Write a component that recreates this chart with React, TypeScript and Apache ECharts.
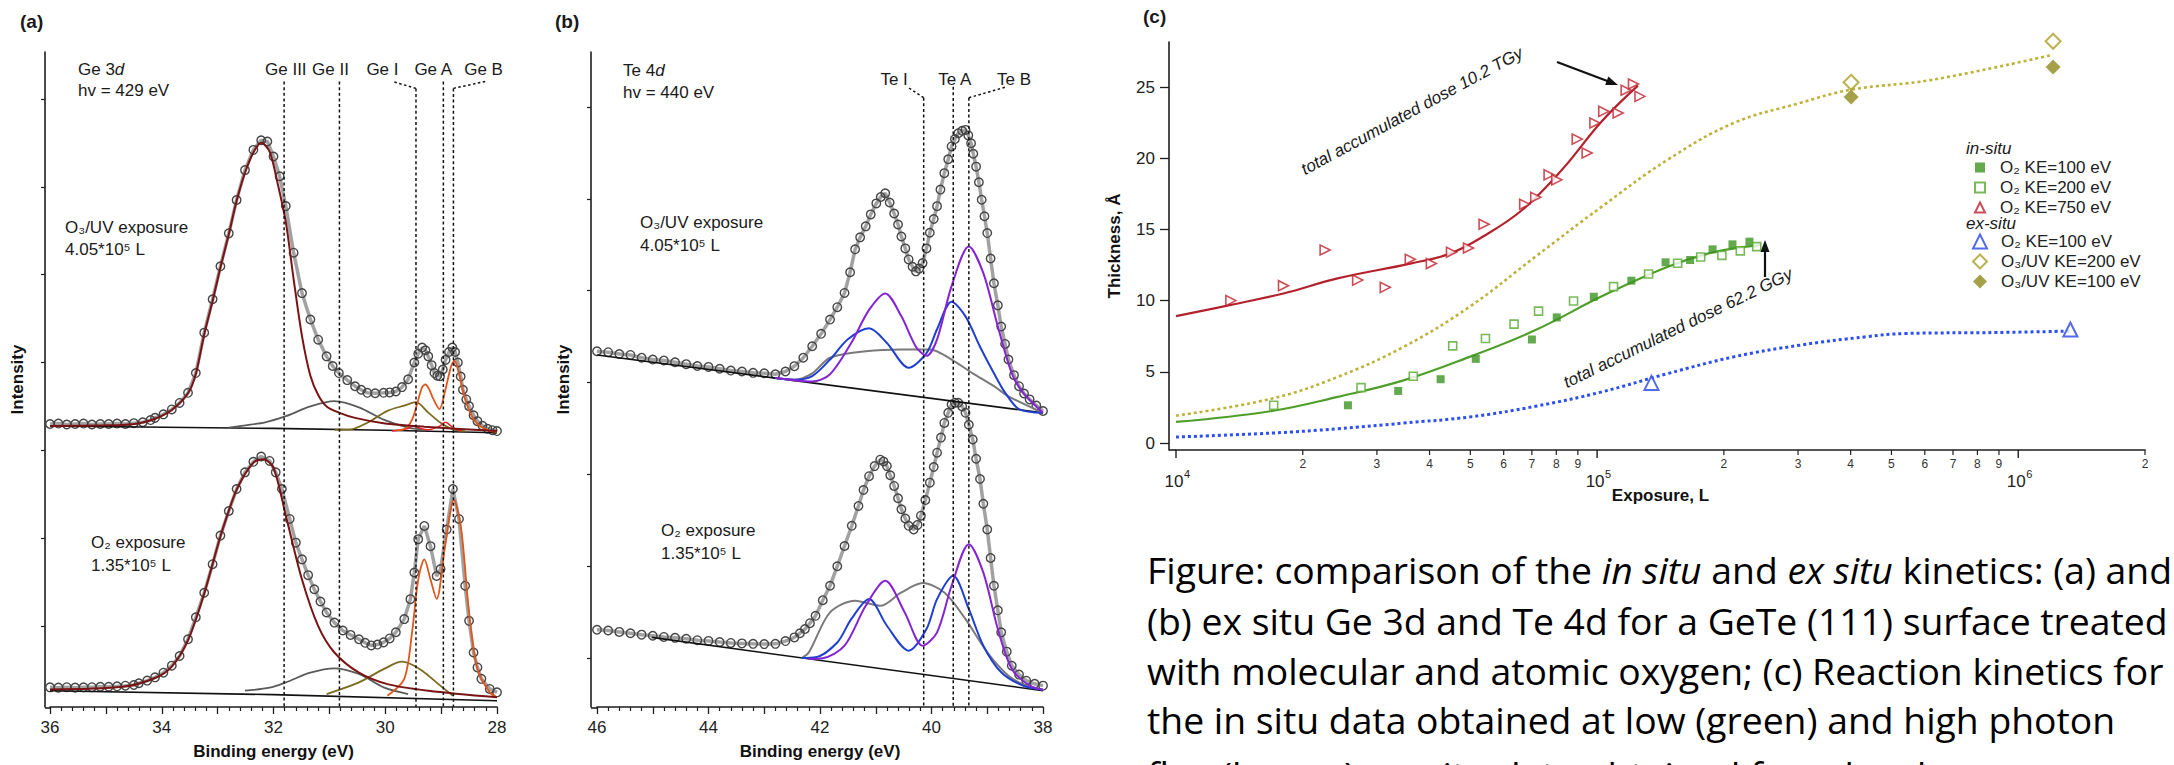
import React, { useEffect, useRef } from "react";
import * as echarts from "echarts";

const FONT = "'Liberation Sans', Arial, Helvetica, sans-serif";
const CAP_FONT = "'Open Sans', 'Liberation Sans', sans-serif";

// ---------------- Panel (a): Ge 3d, [binding energy eV, intensity a.u.] ----------------
const geO3Data = [[36.00,33.00],[35.85,33.05],[35.70,32.95],[35.55,33.00],[35.40,33.05],[35.25,32.95],[35.10,33.00],[34.95,33.00],[34.80,33.05],[34.65,33.00],[34.50,33.10],[34.34,33.20],[34.20,33.45],[34.12,33.70],[33.97,34.10],[33.82,34.66],[33.68,35.40],[33.53,36.55],[33.39,38.80],[33.24,43.40],[33.09,47.20],[32.95,50.95],[32.80,54.70],[32.66,58.50],[32.51,61.90],[32.36,64.20],[32.22,65.30],[32.11,65.15],[32.00,63.45],[31.89,61.20],[31.78,57.80],[31.64,52.50],[31.49,47.90],[31.34,44.90],[31.20,42.60],[31.05,40.70],[30.94,39.60],[30.83,38.80],[30.68,38.00],[30.54,37.30],[30.43,36.90],[30.32,36.55],[30.18,36.50],[30.03,36.55],[29.92,36.60],[29.81,36.70],[29.70,37.20],[29.59,38.10],[29.48,40.00],[29.41,41.00],[29.34,41.70],[29.28,41.40],[29.23,40.70],[29.17,39.70],[29.12,38.80],[29.07,38.50],[29.02,38.45],[28.97,39.20],[28.92,40.30],[28.86,41.20],[28.80,41.70],[28.75,41.20],[28.70,40.00],[28.65,38.40],[28.61,36.90],[28.55,35.80],[28.50,35.04],[28.42,34.00],[28.35,33.33],[28.26,32.80],[28.17,32.46],[28.08,32.30],[28.00,32.20]];
const geO3GeIII = [[36.00,32.77],[35.00,32.85],[34.70,32.90],[34.40,33.10],[34.12,33.60],[33.82,34.60],[33.53,36.50],[33.39,38.70],[33.24,43.20],[33.09,47.00],[32.95,50.80],[32.80,54.60],[32.66,58.40],[32.51,61.60],[32.36,63.90],[32.22,65.00],[32.07,64.00],[31.93,60.50],[31.78,56.00],[31.64,49.50],[31.49,43.00],[31.34,38.50],[31.20,36.30],[31.05,35.00],[30.83,34.30],[30.54,33.70],[30.03,33.10],[29.30,32.70],[28.00,32.20]];
const geO3Bg = [[36.0,32.77],[32.0,32.5],[30.0,32.3],[28.0,32.0]];
const geO3GeII = [[32.80,32.60],[32.51,32.85],[32.15,33.20],[31.78,33.90],[31.34,35.00],[30.91,35.60],[30.47,34.90],[30.03,33.50],[29.59,32.60],[29.23,32.30]];
const geO3GeI = [[30.90,32.35],[30.61,32.40],[30.32,33.15],[29.96,34.50],[29.66,35.10],[29.45,35.50],[29.23,34.30],[29.01,33.15],[28.79,32.40],[28.57,32.20]];
const geO3GeAB = [[29.80,32.30],[29.66,32.40],[29.52,33.50],[29.42,35.50],[29.34,37.20],[29.28,37.50],[29.21,36.90],[29.15,36.00],[29.03,34.70],[28.92,37.00],[28.82,39.60],[28.76,40.20],[28.67,38.45],[28.57,35.80],[28.46,34.00],[28.35,33.00],[28.17,32.30],[28.00,32.10]];
const geO3Small = [[29.88,32.20],[29.59,32.50],[29.50,32.80],[29.37,32.50],[29.23,32.35],[29.04,32.70],[28.92,33.20],[28.79,32.60],[28.64,32.20]];

const geO2Data = [[36.00,3.03],[35.85,3.00],[35.70,3.05],[35.55,3.00],[35.40,3.03],[35.25,3.05],[35.10,3.10],[34.95,3.10],[34.80,3.15],[34.65,3.22],[34.50,3.30],[34.41,3.50],[34.26,3.80],[34.12,4.17],[33.97,4.70],[33.82,5.50],[33.68,6.60],[33.53,8.50],[33.39,11.00],[33.24,13.80],[33.09,17.05],[32.95,20.30],[32.80,23.10],[32.66,25.60],[32.51,27.50],[32.36,28.70],[32.22,29.30],[32.07,28.80],[31.96,27.50],[31.85,25.60],[31.71,22.20],[31.60,19.50],[31.49,17.60],[31.38,15.80],[31.27,14.20],[31.16,12.80],[31.05,11.55],[30.91,10.40],[30.76,9.50],[30.62,9.00],[30.47,8.50],[30.36,8.10],[30.25,7.80],[30.14,7.90],[30.03,8.15],[29.92,8.60],[29.81,9.30],[29.66,10.80],[29.55,13.07],[29.48,16.10],[29.41,19.90],[29.30,21.40],[29.19,19.10],[29.08,15.70],[29.01,16.50],[28.90,21.00],[28.79,25.60],[28.68,22.20],[28.57,14.60],[28.50,10.60],[28.42,7.00],[28.35,5.30],[28.28,4.00],[28.13,2.85],[28.00,2.46]];
const geO2GeIII = [[36.00,2.80],[34.70,3.10],[34.12,4.10],[33.82,5.40],[33.53,8.40],[33.24,13.70],[32.95,20.20],[32.66,25.50],[32.36,28.60],[32.18,29.00],[32.00,28.00],[31.78,22.60],[31.49,15.30],[31.20,10.00],[30.91,7.00],[30.47,4.70],[29.96,3.40],[29.23,2.65],[28.00,1.90]];
const geO2Bg = [[36.0,2.65],[32.0,2.2],[28.0,1.5]];
const geO2GeII = [[32.51,2.65],[32.07,3.00],[31.78,3.60],[31.34,4.70],[30.91,5.20],[30.47,4.55],[30.03,3.03],[29.59,2.27]];
const geO2GeI = [[31.05,2.27],[30.47,3.60],[30.03,5.10],[29.70,5.95],[29.38,5.10],[29.01,3.20],[28.79,2.08]];
const geO2GeAB = [[29.96,2.08],[29.66,4.00],[29.52,9.30],[29.41,15.30],[29.30,17.60],[29.19,15.30],[29.08,13.10],[28.93,19.10],[28.77,24.40],[28.64,21.00],[28.50,11.55],[28.35,5.10],[28.13,2.46],[28.00,1.90]];

const geMarkNames = ["Ge III", "Ge II", "Ge I", "Ge A", "Ge B"];
const geMarkEV = [31.81, 30.82, 29.45, 28.96, 28.78];
const geMarkTop = [71.97, 71.97, 71.2, 71.97, 71.2];
const geLabelEV = [31.78, 30.98, 30.05, 29.14, 28.24];
const geLeaderI = [[29.45, 71.2], [29.88, 72.0]];
const geLeaderB = [[28.78, 71.2], [28.2, 72.0]];

// ---------------- Panel (b): Te 4d ----------------
const teO3Data = [[46.00,43.40],[45.80,43.30],[45.60,43.10],[45.40,43.00],[45.20,42.70],[45.00,42.50],[44.80,42.40],[44.60,42.20],[44.40,42.00],[44.20,41.80],[44.00,41.70],[43.80,41.50],[43.60,41.30],[43.40,41.20],[43.20,41.05],[43.00,41.00],[42.80,40.90],[42.62,41.20],[42.46,41.78],[42.30,42.70],[42.14,43.95],[41.98,45.30],[41.82,46.85],[41.69,48.20],[41.56,49.75],[41.46,52.00],[41.37,54.50],[41.28,55.80],[41.18,57.00],[41.09,58.30],[40.99,59.50],[40.91,60.20],[40.83,60.60],[40.75,59.60],[40.67,58.40],[40.60,57.20],[40.54,55.90],[40.47,54.60],[40.41,53.40],[40.34,52.60],[40.28,52.10],[40.22,52.40],[40.16,53.00],[40.09,54.60],[40.03,56.30],[39.96,57.80],[39.90,59.20],[39.84,61.00],[39.77,62.79],[39.70,64.30],[39.64,65.70],[39.58,66.50],[39.52,67.14],[39.45,67.40],[39.39,67.50],[39.34,66.90],[39.29,66.05],[39.25,64.90],[39.20,63.50],[39.15,61.80],[39.10,59.90],[39.05,58.10],[39.00,56.27],[38.94,53.50],[38.88,50.80],[38.81,48.40],[38.75,46.10],[38.68,44.20],[38.62,42.50],[38.52,40.80],[38.43,39.60],[38.34,38.80],[38.24,38.16],[38.12,37.50],[38.00,36.90]];
const teO3Bg = [[46.0,43.0],[38.0,36.7]];
const teO3Blue = [[42.80,40.48],[42.46,40.30],[42.14,40.70],[41.82,42.50],[41.50,44.70],[41.12,45.90],[40.80,44.30],[40.41,41.60],[40.09,43.20],[39.90,45.80],[39.64,48.80],[39.39,47.20],[39.13,43.90],[38.88,41.00],[38.68,38.90],[38.43,37.10],[38.00,36.70]];
const teO3Purple = [[42.80,40.48],[42.14,40.10],[41.82,40.90],[41.44,44.30],[41.12,47.90],[40.83,49.70],[40.54,47.20],[40.28,43.90],[40.09,42.90],[39.90,44.70],[39.64,50.50],[39.33,54.80],[39.07,51.90],[38.81,46.10],[38.56,41.00],[38.36,38.90],[38.00,36.70]];
const teO3Gray = [[42.80,40.48],[42.46,40.30],[42.14,41.00],[41.82,42.70],[41.18,43.40],[40.54,43.60],[40.03,43.60],[39.64,42.50],[39.26,41.00],[38.88,39.60],[38.62,38.50],[38.00,36.70]];

const teO2Data = [[46.00,13.08],[45.80,13.00],[45.60,12.85],[45.40,12.70],[45.20,12.55],[45.00,12.43],[44.80,12.30],[44.60,12.20],[44.40,12.10],[44.20,11.95],[44.00,11.87],[43.80,11.75],[43.60,11.65],[43.40,11.60],[43.20,11.55],[43.00,11.52],[42.80,11.55],[42.62,11.85],[42.46,12.25],[42.36,12.70],[42.27,13.16],[42.18,13.80],[42.08,14.60],[41.95,16.30],[41.82,17.87],[41.69,20.00],[41.56,22.20],[41.43,24.40],[41.31,26.56],[41.22,28.30],[41.12,29.80],[41.02,30.90],[40.92,31.60],[40.86,31.40],[40.80,30.90],[40.74,29.90],[40.67,28.74],[40.60,27.40],[40.54,26.20],[40.47,25.20],[40.41,24.40],[40.32,24.00],[40.25,24.50],[40.19,25.50],[40.11,27.20],[40.03,29.10],[39.96,30.80],[39.90,32.36],[39.83,34.00],[39.77,35.60],[39.70,36.70],[39.64,37.60],[39.58,37.80],[39.52,37.80],[39.45,37.40],[39.39,36.70],[39.33,35.40],[39.26,33.80],[39.20,31.70],[39.13,29.50],[39.07,26.80],[39.00,24.00],[38.94,20.90],[38.88,17.87],[38.81,15.20],[38.75,12.80],[38.65,10.70],[38.56,9.17],[38.43,8.20],[38.30,7.54],[38.15,7.20],[38.00,7.00]];
const teO2Bg = [[45.02,12.25],[38.0,6.45]];
const teO2Blue = [[42.33,10.00],[42.08,10.08],[41.69,11.70],[41.44,14.24],[41.12,16.42],[40.80,13.52],[40.41,10.80],[40.09,13.16],[39.90,16.42],[39.61,18.95],[39.33,15.33],[39.07,11.35],[38.75,8.45],[38.36,7.00],[38.00,6.56]];
const teO2Purple = [[42.20,9.90],[41.95,9.97],[41.56,11.35],[41.18,15.69],[40.83,18.41],[40.48,14.97],[40.16,11.35],[39.90,12.80],[39.64,17.87],[39.33,22.40],[39.07,19.30],[38.81,13.16],[38.56,8.81],[38.24,7.00],[38.00,6.56]];
const teO2Gray = [[42.33,10.00],[42.20,10.62],[41.82,14.97],[41.37,16.24],[40.92,15.69],[40.54,17.14],[40.16,18.16],[39.77,17.14],[39.39,14.24],[39.00,10.62],[38.62,8.08],[38.30,7.00],[38.00,6.56]];

const teMarkNames = ["Te I", "Te A", "Te B"];
const teMarkEV = [40.14, 39.61, 39.33];
const teMarkTop = [71.0, 72.2, 71.0];
const teLabelEV = [40.67, 39.58, 38.52];
const teLeaderI = [[40.14, 71.0], [40.44, 72.2]];
const teLeaderB = [[39.33, 71.0], [38.65, 72.2]];

const intensityTicks = [10, 20, 30, 40, 50, 60, 70];

// ---------------- Panel (c): kinetics, [exposure L, thickness Å] ----------------
const red750 = [[13500,10.0],[18000,11.05],[22600,13.55],[27000,11.44],[31400,10.93],[36000,12.9],[40400,12.6],[45100,13.4],[49500,13.7],[53900,15.36],[67300,16.77],[71500,17.26],[76900,18.83],[80200,18.48],[89700,21.34],[94700,20.36],[98800,22.47],[103700,23.29],[112200,23.17],[117200,24.77],[122000,25.21],[126400,24.34]];
const redFit = [[10000,8.91],[13500,9.7],[18000,10.5],[24200,11.56],[36000,12.6],[44700,13.3],[53600,14.5],[66600,16.4],[82600,19.2],[102600,22.6],[125000,25.1]];
const green100 = [[25600,2.65],[33700,3.66],[42500,4.48],[51500,5.91],[70000,7.27],[80200,8.82],[98200,10.27],[120600,11.4],[145400,12.69],[166300,12.85],[188000,13.6],[209600,13.95],[230000,14.14]];
const green200 = [[17060,2.65],[27500,3.89],[36600,4.69],[45400,6.82],[54300,7.34],[63500,8.35],[72600,9.26],[87900,9.97],[109400,10.98],[132500,11.87],[155300,12.62],[176200,13.06],[197800,13.18],[218800,13.49],[239400,13.79]];
const greenFit = [[10000,1.48],[16900,2.25],[24200,3.24],[34700,4.4],[49800,6.05],[71400,7.93],[102600,10.3],[147200,12.38],[189300,13.4],[243600,13.9]];
const blueEx = [[134600,4.22],[1330000,7.97]];
const blueFit = [[10000,0.42],[16900,0.7],[24200,1.0],[34700,1.4],[49800,1.83],[71400,2.58],[102600,3.59],[147200,4.88],[211000,6.05],[302700,6.87],[434300,7.46],[539500,7.69],[893300,7.76],[1330000,7.86]];
const oliveOpen = [[401000,25.33],[1210000,28.21]];
const oliveFilled = [[401000,24.3],[1210000,26.4]];
const oliveFit = [[10000,1.92],[16900,3.12],[24200,4.64],[34700,6.75],[49800,9.57],[71400,13.09],[102600,16.6],[147200,19.9],[211000,22.47],[302700,23.87],[400900,24.81],[623600,25.5],[1210000,27.27]];

const thicknessTicks = [0, 5, 10, 15, 20, 25];
const exposureMajorTicks = [1e4, 1e5, 1e6];
const exposureMinorTicks = [2e4,3e4,4e4,5e4,6e4,7e4,8e4,9e4,2e5,3e5,4e5,5e5,6e5,7e5,8e5,9e5,2e6];

const legendInSitu = ["O₂ KE=100 eV", "O₂ KE=200 eV", "O₂ KE=750 eV"];
const legendExSitu = ["O₂ KE=100 eV", "O₃/UV KE=200 eV", "O₃/UV KE=100 eV"];

const captionLines = [
  "Figure: comparison of the {i|in situ} and {i|ex situ} kinetics: (a) and",
  "(b) ex situ Ge 3d and Te 4d for a GeTe (111) surface treated",
  "with molecular and atomic oxygen; (c) Reaction kinetics for",
  "the in situ data obtained at low (green) and high photon",
  "flux (brown), ex situ data obtained from hard x-ray",
];

const AX = "#1e1e1e";

function curve(data: any, color: string, idx: number, width = 1.8, extra: any = {}) {
  return {
    type: "line", data, xAxisIndex: idx, yAxisIndex: idx, smooth: 0.3,
    symbol: "none", showSymbol: false, silent: true, z: 3,
    lineStyle: { color, width }, ...extra,
  };
}
function circles(data: any, idx: number) {
  return {
    type: "line", data, xAxisIndex: idx, yAxisIndex: idx, symbol: "circle",
    symbolSize: 8.5, showSymbol: true, showAllSymbol: true, silent: true, z: 2,
    lineStyle: { color: "rgba(70,70,70,0.5)", width: 3.5 },
    itemStyle: { color: "rgba(255,255,255,0)", borderColor: "#454545", borderWidth: 1.4 },
  };
}
function dashed(data: any, idx: number, dash: number[] = [3, 2.6]) {
  return {
    type: "line", data, xAxisIndex: idx, yAxisIndex: idx, symbol: "none",
    silent: true, z: 4, lineStyle: { color: "#111", width: 1.5, type: dash },
  };
}
function T(x: number, y: number, text: string, o: any = {}) {
  const align = o.align || "left";
  const va = o.va || "middle";
  return {
    type: "text", x, y, rotation: o.rot || 0, scaleX: o.sx || 1, silent: true, z: 100,
    style: {
      text, fill: o.color || "#1a1a1a", fontSize: o.size || 17, fontFamily: o.family || FONT,
      fontWeight: o.bold ? "bold" : "normal", fontStyle: o.italic ? "italic" : "normal",
      align, verticalAlign: va, textAlign: align, textVerticalAlign: va, rich: o.rich,
    },
  };
}
function L(x1: number, y1: number, x2: number, y2: number, w = 1.4, c = AX) {
  return { type: "line", silent: true, z: 100, shape: { x1, y1, x2, y2 }, style: { stroke: c, lineWidth: w } };
}
function arrow(x1: number, y1: number, x2: number, y2: number) {
  const dx = x2 - x1, dy = y2 - y1, len = Math.hypot(dx, dy), ux = dx / len, uy = dy / len;
  const hl = 12, hw = 4.5, bx = x2 - ux * hl, by = y2 - uy * hl;
  return [
    L(x1, y1, bx + ux * 2, by + uy * 2, 2.2, "#111"),
    { type: "polygon", silent: true, z: 100, shape: { points: [[x2, y2], [bx - uy * hw, by + ux * hw], [bx + uy * hw, by - ux * hw]] }, style: { fill: "#111" } },
  ];
}

function spectrumXAxis(grid: number, min: number, max: number) {
  return {
    gridIndex: grid, type: "value", min, max, inverse: true, interval: 1,
    axisLine: { onZero: false, lineStyle: { color: AX, width: 1.6 } },
    axisTick: { length: 7, lineStyle: { color: AX, width: 1.3 } },
    minorTick: { show: true, splitNumber: 5, length: 4, lineStyle: { color: AX, width: 1.2 } },
    axisLabel: { formatter: (v: number) => (v % 2 === 0 ? String(v) : ""), fontSize: 17, color: "#222", fontFamily: FONT, margin: 12 },
    splitLine: { show: false },
    name: "Binding energy (eV)", nameLocation: "middle", nameGap: 36,
    nameTextStyle: { fontWeight: "bold", fontSize: 17, color: "#111", fontFamily: FONT },
  };
}
function spectrumYAxis(grid: number, min: number, max: number, offset: number) {
  return {
    gridIndex: grid, type: "value", min, max, offset,
    axisLine: { show: true, onZero: false, lineStyle: { color: AX, width: 1.6 } },
    axisTick: { show: true, length: 4, customValues: intensityTicks, lineStyle: { color: AX, width: 1.2 } },
    axisLabel: { show: false }, splitLine: { show: false },
    name: "Intensity", nameLocation: "middle", nameGap: 19,
    nameTextStyle: { fontWeight: "bold", fontSize: 17, color: "#111", fontFamily: FONT },
  };
}

const series: any[] = [
  // panel a
  circles(geO3Data, 0),
  curve(geO3Bg, "#111", 0, 1.6, { smooth: false }),
  curve(geO3GeII, "#5a5a5a", 0),
  curve(geO3GeI, "#7d6a1e", 0),
  curve(geO3Small, "#e8262a", 0, 1.5),
  curve(geO3GeAB, "#e0561c", 0),
  curve(geO3GeIII, "#7a1414", 0, 2),
  circles(geO2Data, 0),
  curve(geO2Bg, "#111", 0, 1.6, { smooth: false }),
  curve(geO2GeII, "#5a5a5a", 0),
  curve(geO2GeI, "#7d6a1e", 0),
  curve(geO2GeAB, "#e0561c", 0),
  curve(geO2GeIII, "#7a1414", 0, 2),
  ...geMarkEV.map((ev, i) => dashed([[ev, geMarkTop[i]], [ev, 0.795]], 0)),
  dashed(geLeaderI, 0, [2.5, 2.5]),
  dashed(geLeaderB, 0, [2.5, 2.5]),
  // panel b
  circles(teO3Data, 1),
  curve(teO3Bg, "#111", 1, 1.6, { smooth: false }),
  curve(teO3Gray, "#7a7a7a", 1, 2),
  curve(teO3Blue, "#1f3fd0", 1, 2),
  curve(teO3Purple, "#8424d4", 1, 2),
  circles(teO2Data, 1),
  curve(teO2Bg, "#111", 1, 1.6, { smooth: false }),
  curve(teO2Gray, "#7a7a7a", 1, 2),
  curve(teO2Blue, "#1f3fd0", 1, 2),
  curve(teO2Purple, "#8424d4", 1, 2),
  ...teMarkEV.map((ev, i) => dashed([[ev, teMarkTop[i]], [ev, 4.674]], 1)),
  dashed(teLeaderI, 1, [2.5, 2.5]),
  dashed(teLeaderB, 1, [2.5, 2.5]),
  // panel c lines
  curve(oliveFit, "#bdb23a", 2, 2.6, { smooth: 0.4, lineStyle: { color: "#bdb23a", width: 2.6, type: [3, 3] } }),
  curve(blueFit, "#2b4ff0", 2, 3, { smooth: 0.4, lineStyle: { color: "#2b4ff0", width: 3, type: [3, 3] } }),
  curve(redFit, "#b3222c", 2, 2.2, { smooth: 0.4 }),
  curve(greenFit, "#4f9e2a", 2, 2.2, { smooth: 0.4 }),
  // panel c markers
  { type: "scatter", name: "in|" + legendInSitu[0], data: green100, xAxisIndex: 2, yAxisIndex: 2, symbol: "rect", symbolSize: 8, z: 6, clip: false, itemStyle: { color: "#3c9420" } },
  { type: "scatter", name: "in|" + legendInSitu[1], data: green200, xAxisIndex: 2, yAxisIndex: 2, symbol: "rect", symbolSize: 8, z: 6, clip: false, itemStyle: { color: "#ffffff", borderColor: "#58a830", borderWidth: 1.6 } },
  { type: "scatter", name: "in|" + legendInSitu[2], data: red750, xAxisIndex: 2, yAxisIndex: 2, symbol: "triangle", symbolRotate: -90, symbolSize: 10, z: 6, clip: false, itemStyle: { color: "#ffffff", borderColor: "#c0202c", borderWidth: 1.6 } },
  { type: "scatter", name: "ex|" + legendExSitu[0], data: blueEx, xAxisIndex: 2, yAxisIndex: 2, symbol: "triangle", symbolSize: 14, z: 6, clip: false, itemStyle: { color: "#ffffff", borderColor: "#2846e6", borderWidth: 2 } },
  { type: "scatter", name: "ex|" + legendExSitu[1], data: oliveOpen, xAxisIndex: 2, yAxisIndex: 2, symbol: "diamond", symbolSize: 15, z: 6, clip: false, itemStyle: { color: "#ffffff", borderColor: "#a8a024", borderWidth: 2 } },
  { type: "scatter", name: "ex|" + legendExSitu[2], data: oliveFilled, xAxisIndex: 2, yAxisIndex: 2, symbol: "diamond", symbolSize: 15, z: 6, clip: false, itemStyle: { color: "#8f8a1c" } },
];

const legendText = { fontSize: 17, fontFamily: FONT, color: "#222", lineHeight: 16 };

const option: any = {
  animation: false,
  backgroundColor: "#ffffff",
  grid: [
    { left: 50, top: 52, width: 447, height: 656 },
    { left: 597, top: 52, width: 446, height: 656 },
    { left: 1176, top: 42, width: 969, height: 408 },
  ],
  xAxis: [
    spectrumXAxis(0, 28, 36),
    spectrumXAxis(1, 38, 46),
    {
      gridIndex: 2, type: "log", logBase: 10, min: 1e4, max: 2e6,
      axisLine: { onZero: false, lineStyle: { color: AX, width: 1.6 } },
      axisTick: { show: false }, axisLabel: { show: false }, minorTick: { show: false }, splitLine: { show: false },
      name: "Exposure, L", nameLocation: "middle", nameGap: 37,
      nameTextStyle: { fontWeight: "bold", fontSize: 17, color: "#111", fontFamily: FONT },
    },
  ],
  yAxis: [
    spectrumYAxis(0, 0.795, 75.34, 5),
    spectrumYAxis(1, 4.674, 75.98, 6),
    {
      gridIndex: 2, type: "value", min: -0.49, max: 28.16, offset: 7,
      axisLine: { show: true, onZero: false, lineStyle: { color: AX, width: 1.6 } },
      axisTick: { show: true, length: 9, customValues: thicknessTicks, lineStyle: { color: AX, width: 1.3 } },
      axisLabel: { customValues: thicknessTicks, fontSize: 17, color: "#222", fontFamily: FONT, margin: 14 },
      splitLine: { show: false },
      name: "Thickness, Å", nameLocation: "middle", nameGap: 46,
      nameTextStyle: { fontWeight: "bold", fontSize: 17, color: "#111", fontFamily: FONT },
    },
  ],
  legend: [
    {
      data: legendInSitu.map((n) => "in|" + n), orient: "vertical", left: 1974, top: 159, padding: 0,
      itemWidth: 10, itemHeight: 10, itemGap: 3, selectedMode: false,
      formatter: (n: string) => n.slice(3), textStyle: { ...legendText, padding: [0, 0, 0, 10] },
    },
    {
      data: legendExSitu.map((n) => "ex|" + n), orient: "vertical", left: 1972, top: 233, padding: 0,
      itemWidth: 14, itemHeight: 14, itemGap: 3, selectedMode: false,
      formatter: (n: string) => n.slice(3), textStyle: { ...legendText, padding: [0, 0, 0, 9] },
    },
  ],
  series,
};

export default function App() {
  const ref = useRef<HTMLDivElement>(null);
  useEffect(() => {
    document.body.style.margin = "0";
    const chart = echarts.init(ref.current as HTMLDivElement, null, { renderer: "svg" });
    chart.setOption(option);

    const px = (axis: number, v: number) => chart.convertToPixel({ xAxisIndex: axis }, v) as number;
    const g: any[] = [];
    const it = { i: { fontStyle: "italic", fontSize: 17, fontFamily: FONT, fill: "#1a1a1a" } };

    // panel titles
    g.push(T(20, 21, "(a)", { bold: true, size: 19 }));
    g.push(T(555, 21, "(b)", { bold: true, size: 19 }));
    g.push(T(1143, 16, "(c)", { bold: true, size: 19 }));

    // panel a texts
    g.push(T(78, 69, "Ge 3{i|d}", { rich: it }));
    g.push(T(78, 90, "hv = 429 eV"));
    g.push(T(65, 227, "O₃/UV exposure"));
    g.push(T(65, 249, "4.05*10⁵ L"));
    g.push(T(91, 542, "O₂ exposure"));
    g.push(T(91, 565, "1.35*10⁵ L"));
    geMarkNames.forEach((n, i) => g.push(T(px(0, geLabelEV[i]), 69, n, { align: "center" })));

    // panel b texts
    g.push(T(623, 70, "Te 4{i|d}", { rich: it }));
    g.push(T(623, 92, "hv = 440 eV"));
    g.push(T(640, 222, "O₃/UV exposure"));
    g.push(T(640, 245, "4.05*10⁵ L"));
    g.push(T(661, 530, "O₂ exposure"));
    g.push(T(661, 553, "1.35*10⁵ L"));
    teMarkNames.forEach((n, i) => g.push(T(px(1, teLabelEV[i]), 79, n, { align: "center" })));

    // axis corners
    g.push(L(45, 708, 50, 708, 1.6));
    g.push(L(591, 708, 597, 708, 1.6));
    g.push(L(1169, 450, 1176, 450, 1.6));

    // panel c log ticks
    exposureMajorTicks.forEach((v) => {
      const x = px(2, v);
      g.push(L(x, 450, x, 458, 1.4));
      g.push(T(x - 2, 481, "10", { align: "center", size: 17, color: "#222" }));
      g.push(T(x + 8, 474, String(Math.round(Math.log10(v))), { size: 11, color: "#222" }));
    });
    exposureMinorTicks.forEach((v) => {
      const x = px(2, v);
      const m = Math.round(v / Math.pow(10, Math.floor(Math.log10(v) + 1e-9)));
      g.push(L(x, 450, x, 455, 1.2));
      g.push(T(x, 464, String(m), { align: "center", size: 12, color: "#333" }));
    });

    // panel c annotations
    g.push(T(1412, 111, "total accumulated dose 10.2 TGy", { italic: true, size: 17, align: "center", rot: (28.5 * Math.PI) / 180 }));
    g.push(T(1678, 328, "total accumulated dose 62.2 GGy", { italic: true, size: 17, align: "center", rot: (26 * Math.PI) / 180 }));
    g.push(...arrow(1557, 62, 1618, 85));
    g.push(...arrow(1765, 277, 1765, 240));

    // legend headers
    g.push(T(1966, 148, "in-situ", { italic: true, size: 17 }));
    g.push(T(1966, 223, "ex-situ", { italic: true, size: 17 }));

    // caption
    const capY = [569, 620, 670, 719, 774];
    const capRich = { i: { fontStyle: "italic", fontSize: 37.3, fontFamily: CAP_FONT, fill: "#000" } };
    captionLines.forEach((line, i) => g.push(T(1147, capY[i], line, { size: 37.3, family: CAP_FONT, color: "#000", rich: capRich })));

    chart.setOption({ graphic: g });
    return () => chart.dispose();
  }, []);
  return <div ref={ref} style={{ width: 2174, height: 765 }} />;
}
